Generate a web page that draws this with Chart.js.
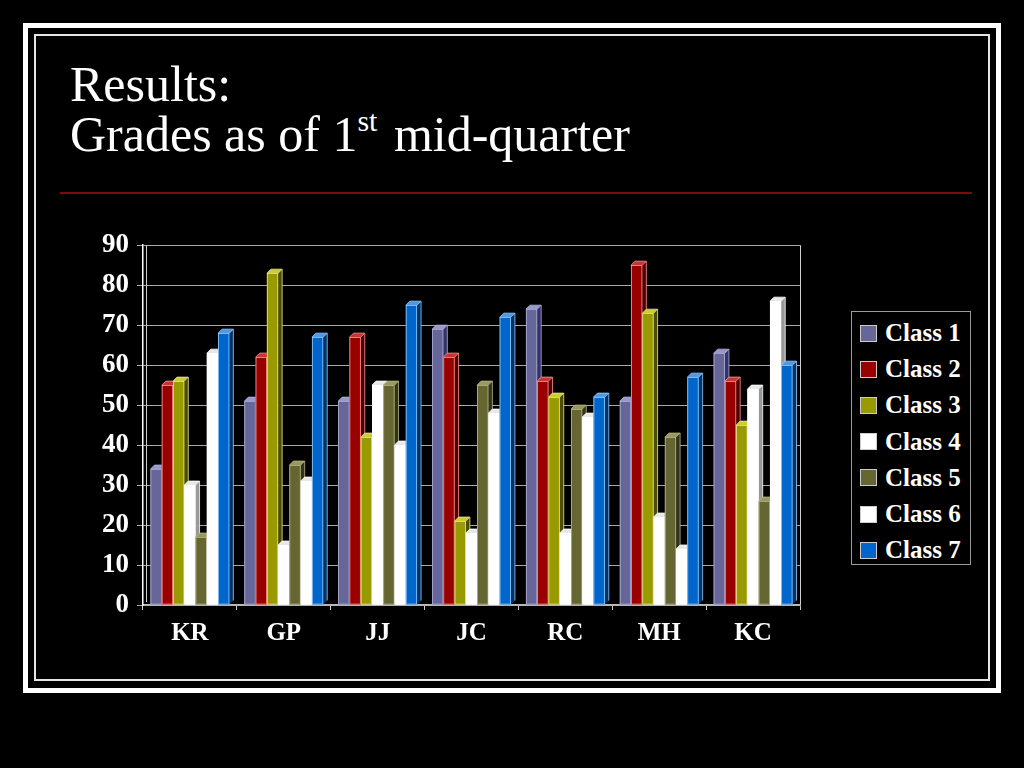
<!DOCTYPE html>
<html>
<head>
<meta charset="utf-8">
<script src="https://cdn.jsdelivr.net/npm/chart.js@4"></script>
<style>
  body { margin: 0; background: #000; width: 1024px; height: 768px; overflow: hidden; position: relative; font-family: 'Liberation Serif', 'Times New Roman', serif; }
  .frame-outer { position: absolute; left: 23px; top: 23px; width: 978px; height: 670px; border: 5px solid #fff; box-sizing: border-box; }
  .frame-inner { position: absolute; left: 34px; top: 34px; width: 956px; height: 647px; border: 2px solid #e6e6e6; box-sizing: border-box; }
  .title { position: absolute; left: 70px; top: 59px; color: #fff; font-size: 50px; line-height: 50px; }
  .title sup { font-size: 30px; vertical-align: 20px; line-height: 0; margin-right: 4px; }
  .rule { position: absolute; left: 60px; top: 192px; width: 912px; height: 2px; background: #7a0c0c; }
  .chart-wrap { position: absolute; left: 80px; top: 221px; width: 730px; height: 434px; }
  .legend { position: absolute; left: 851px; top: 311px; width: 120px; height: 254px; border: 1px solid #999; box-sizing: border-box; padding-top: 3px; }
  .legend div { height: 36.2px; display: flex; align-items: center; color: #fff; font-weight: bold; font-size: 25px; }
  .legend span { display: inline-block; width: 15px; height: 15px; margin: 0 8px 0 8px; border: 1px solid #ccc; }
</style>
</head>
<body>
<div class="frame-outer"></div>
<div class="frame-inner"></div>
<div class="title">Results:<br>Grades as of 1<sup>st</sup> mid-quarter</div>
<div class="rule"></div>
<div class="chart-wrap"><canvas id="gradesChart"></canvas></div>
<div class="legend" id="legend"></div>
<script>
// Data
const categories = ['KR', 'GP', 'JJ', 'JC', 'RC', 'MH', 'KC'];
const seriesNames = ['Class 1', 'Class 2', 'Class 3', 'Class 4', 'Class 5', 'Class 6', 'Class 7'];
const class1 = [34, 51, 51, 69, 74, 51, 63];
const class2 = [55, 62, 67, 62, 56, 85, 56];
const class3 = [56, 83, 42, 21, 52, 73, 45];
const class4 = [30, 15, 55, 18, 18, 22, 54];
const class5 = [17, 35, 55, 55, 49, 42, 26];
const class6 = [63, 31, 40, 48, 47, 14, 76];
const class7 = [68, 67, 75, 72, 52, 57, 60];
const yTicks = [0, 10, 20, 30, 40, 50, 60, 70, 80, 90];

const seriesValues = [class1, class2, class3, class4, class5, class6, class7];

// Styles
const faceColors = ['#666699', '#990000', '#999900', '#ffffff', '#666633', '#ffffff', '#0066cc'];
const edgeColors = ['#b0b0d8', '#ff9999', '#e6e699', '#ffffff', '#b8b88a', '#ffffff', '#99ccff'];
const topColors = ['#9999cc', '#cc3333', '#cccc33', '#e8e8e8', '#99995c', '#e8e8e8', '#4d9be6'];
const sideColors = ['#333366', '#4d0000', '#4d4d00', '#999999', '#33331a', '#999999', '#003366'];
const depth = 4;

// Legend
const legendEl = document.getElementById('legend');
seriesNames.forEach((name, i) => {
  const row = document.createElement('div');
  row.innerHTML = `<span style="background:${faceColors[i]}"></span>${name}`;
  legendEl.appendChild(row);
});

// redraw bars left to right with top and side faces so later bars cover earlier sides
const bar3d = {
  id: 'bar3d',
  afterDatasetsDraw(chart) {
    const ctx = chart.ctx;
    ctx.save();
    chart.data.datasets.forEach((ds, i) => {
      const meta = chart.getDatasetMeta(i);
      meta.data.forEach(bar => {
        const { x, y, base, width } = bar.getProps(['x', 'y', 'base', 'width'], true);
        const l = x - width / 2;
        const r = x + width / 2;
        // side
        ctx.fillStyle = sideColors[i];
        ctx.beginPath();
        ctx.moveTo(r, y);
        ctx.lineTo(r + depth, y - depth);
        ctx.lineTo(r + depth, base - depth);
        ctx.lineTo(r, base);
        ctx.closePath();
        ctx.fill();
        // top
        ctx.fillStyle = topColors[i];
        ctx.beginPath();
        ctx.moveTo(l, y);
        ctx.lineTo(l + depth, y - depth);
        ctx.lineTo(r + depth, y - depth);
        ctx.lineTo(r, y);
        ctx.closePath();
        ctx.fill();
        // front
        ctx.fillStyle = faceColors[i];
        ctx.fillRect(l, y, width, base - y);
        ctx.strokeStyle = edgeColors[i];
        ctx.lineWidth = 0.8;
        ctx.strokeRect(l + 0.4, y + 0.4, width - 0.8, base - y - 0.8);
        ctx.beginPath();
        ctx.moveTo(l, y);
        ctx.lineTo(l + depth, y - depth);
        ctx.lineTo(r + depth, y - depth);
        ctx.lineTo(r + depth, base - depth);
        ctx.moveTo(r, y);
        ctx.lineTo(r + depth, y - depth);
        ctx.stroke();
      });
    });
    ctx.restore();
  },
  beforeDatasetsDraw(chart) {
    const { ctx, chartArea } = chart;
    ctx.save();
    ctx.strokeStyle = '#d0d0d0';
    ctx.lineWidth = 1;
    ctx.beginPath();
    ctx.moveTo(chartArea.right + 0.5, chartArea.top);
    ctx.lineTo(chartArea.right + 0.5, chartArea.bottom);
    ctx.moveTo(chartArea.left + 3.5, chartArea.top);
    ctx.lineTo(chartArea.left + 3.5, chartArea.bottom - 3);
    ctx.stroke();
    ctx.restore();
  }
};

const tickFont = { family: "'Liberation Serif', 'Times New Roman', serif", size: 27, weight: 'bold' };

new Chart(document.getElementById('gradesChart'), {
  type: 'bar',
  data: {
    labels: categories,
    datasets: seriesNames.map((name, i) => ({
      label: name,
      data: seriesValues[i],
      backgroundColor: faceColors[i],
      borderColor: edgeColors[i],
      borderWidth: 1,
      categoryPercentage: 0.84,
      barPercentage: 1.0
    }))
  },
  options: {
    responsive: true,
    maintainAspectRatio: false,
    animation: false,
    layout: { padding: { top: 20, right: 10, left: 0, bottom: 0 } },
    plugins: {
      legend: { display: false },
      tooltip: { enabled: false }
    },
    scales: {
      x: {
        grid: { offset: true, drawOnChartArea: false, drawTicks: true, tickLength: 5, color: '#cccccc' },
        border: { color: '#bbbbbb', width: 1.5 },
        ticks: { color: '#ffffff', font: { ...tickFont, size: 25 }, padding: 9 },
        afterFit(scale) { scale.height = 50; }
      },
      y: {
        min: 0,
        max: 90,
        afterBuildTicks(scale) { scale.ticks = yTicks.map(v => ({ value: v })); },
        grid: { color: '#aaaaaa', lineWidth: 1, tickLength: 6 },
        border: { color: '#ffffff', width: 1.5 },
        ticks: { color: '#ffffff', font: tickFont, padding: 8 },
        afterFit(scale) { scale.width = 63; }
      }
    }
  },
  plugins: [bar3d]
});
</script>
</body>
</html>
